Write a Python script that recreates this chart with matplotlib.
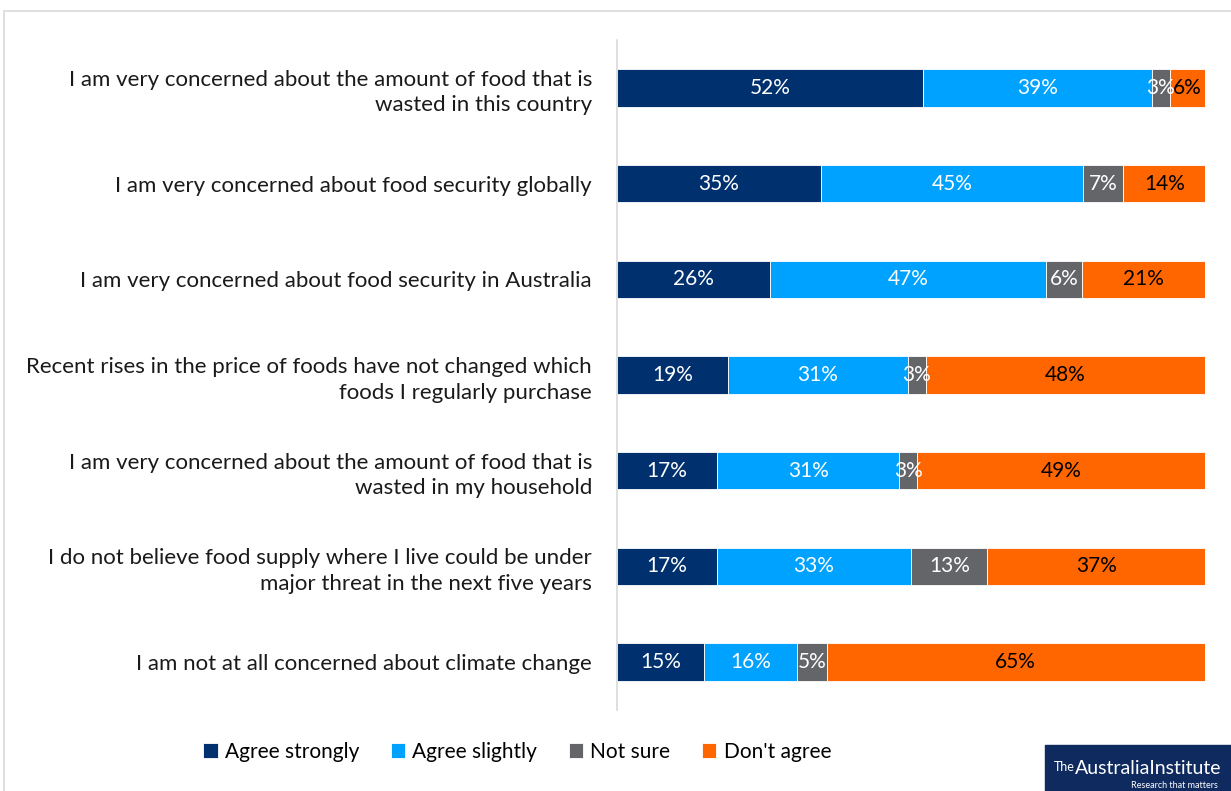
import matplotlib.pyplot as plt
import numpy as np
from matplotlib.patches import Rectangle

plt.rcParams["font.family"] = ["Lato", "DejaVu Sans"]

statements = [
    "I am very concerned about the amount of food that is\nwasted in this country",
    "I am very concerned about food security globally",
    "I am very concerned about food security in Australia",
    "Recent rises in the price of foods have not changed which\nfoods I regularly purchase",
    "I am very concerned about the amount of food that is\nwasted in my household",
    "I do not believe food supply where I live could be under\nmajor threat in the next five years",
    "I am not at all concerned about climate change",
]
agree_strongly = [52, 35, 26, 19, 17, 17, 15]
agree_slightly = [39, 45, 47, 31, 31, 33, 16]
not_sure = [3, 7, 6, 3, 3, 13, 5]
dont_agree = [6, 14, 21, 48, 49, 37, 65]

series = [
    ("Agree strongly", agree_strongly, "#00306E", "white"),
    ("Agree slightly", agree_slightly, "#00A2FF", "white"),
    ("Not sure", not_sure, "#636569", "white"),
    ("Don't agree", dont_agree, "#FF6600", "black"),
]

fig = plt.figure(figsize=(12.31, 7.91), dpi=100)
# light frame around the chart area
fig.add_artist(Rectangle((4 / 1231, -0.01), 1.2, 1 - 11 / 791 + 0.01,
                         transform=fig.transFigure, fill=False,
                         edgecolor="#D9D9D9", linewidth=1.2))

ax = fig.add_axes([617 / 1231, 1 - 710 / 791, 588 / 1231, 670 / 791])

y = np.arange(len(statements))
totals = np.sum([s[1] for s in series], axis=0)
left = np.zeros(len(statements))
for name, vals, color, tcolor in series:
    share = np.array(vals) / totals * 100
    ax.barh(y, share, left=left, height=0.39, color=color, label=name,
            edgecolor="white", linewidth=0.6)
    for yi, l, w, v in zip(y, left, share, vals):
        ax.text(l + w / 2, yi, f"{v}%", ha="center", va="center",
                color=tcolor, fontsize=15)
    left += share

ax.set_xlim(0, 100)
ax.set_ylim(len(statements) - 0.5, -0.5)
ax.set_yticks(y)
ax.set_yticklabels(statements, fontsize=16, color="#1a1a1a",
                   linespacing=1.35)
ax.tick_params(axis="y", length=0, pad=18)
ax.set_xticks([])
for side in ["top", "right", "bottom"]:
    ax.spines[side].set_visible(False)
ax.spines["left"].set_color("#D9D9D9")
ax.spines["left"].set_linewidth(1.2)

fig.legend(loc="center", bbox_to_anchor=(517 / 1231, 1 - 752 / 791), ncol=4,
           frameon=False, fontsize=15, handlelength=0.7, handleheight=0.7,
           handletextpad=0.35, columnspacing=1.5)

# publisher badge in the corner
fig.add_artist(Rectangle((1045 / 1231, 0), 186 / 1231, 46 / 791,
                         transform=fig.transFigure, color="#0F2A5F"))
fig.text(1054 / 1231, 1 - 767 / 791, "The", color="white", fontsize=9,
         va="center", ha="left")
fig.text(1075 / 1231, 1 - 769 / 791, "AustraliaInstitute", color="white",
         fontsize=14, va="center", ha="left")
fig.text(1218 / 1231, 1 - 785 / 791, "Research that matters", color="white",
         fontsize=6.5, va="center", ha="right")

fig.savefig("out.png", dpi=100, facecolor="white")
